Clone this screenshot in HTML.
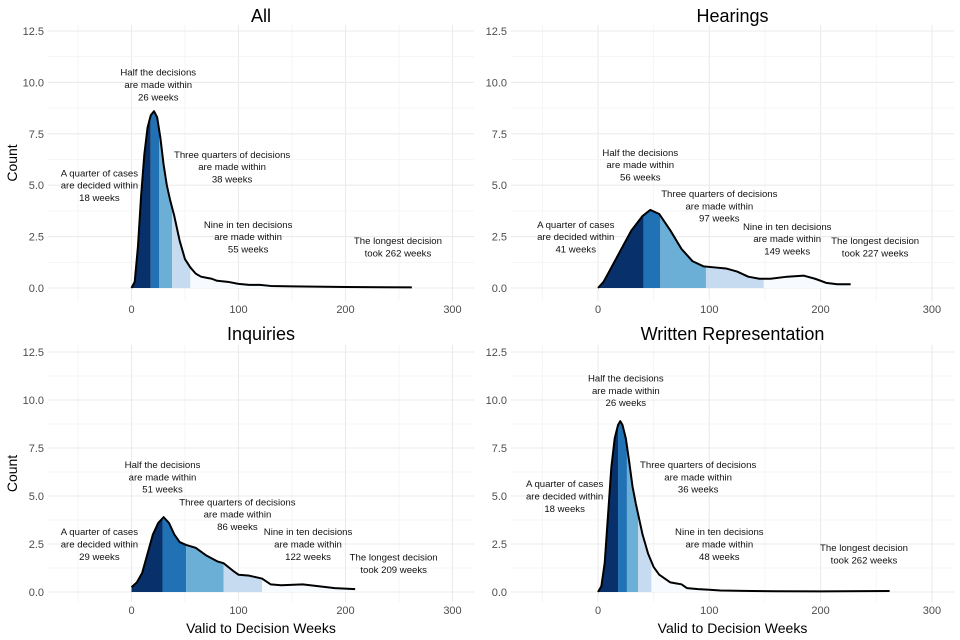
<!DOCTYPE html>
<html><head><meta charset="utf-8">
<style>
html,body{margin:0;padding:0;background:#fff;}
svg{display:block;font-family:"Liberation Sans",Arial,sans-serif;}
</style></head>
<body>
<svg id="chart" width="960" height="640" viewBox="0 0 960 640" xmlns="http://www.w3.org/2000/svg"></svg>
<script>
// ---- data ----
const panelTitles = ["All", "Hearings", "Inquiries", "Written Representation"];
const xTicks = [0, 100, 200, 300];
const yTickLabels = ["0.0", "2.5", "5.0", "7.5", "10.0", "12.5"];
const yTicks = [0, 2.5, 5, 7.5, 10, 12.5];

const allWeeks  = [0,3,6,9,12,15,18,21,24,27,30,33,36,40,45,50,55,60,65,70,75,80,90,100,110,120,130,150,200,262];
const allCounts = [0,0.3,2,4.5,6.5,7.8,8.4,8.6,8.3,7.3,6.0,5.0,4.3,3.5,2.3,1.4,1.0,0.7,0.55,0.5,0.45,0.35,0.3,0.2,0.15,0.15,0.1,0.08,0.05,0.03];
const allQuantiles = [18, 26, 38, 55, 262];

const hearWeeks  = [0,5,10,20,30,40,47,55,65,75,85,95,105,115,125,135,145,155,170,185,195,205,215,227];
const hearCounts = [0,0.3,0.8,1.8,2.8,3.5,3.8,3.6,2.8,1.9,1.3,1.05,1.0,0.95,0.8,0.55,0.45,0.45,0.55,0.6,0.45,0.25,0.18,0.18];
const hearQuantiles = [41, 56, 97, 149, 227];

const inqWeeks  = [0,5,10,15,20,25,30,35,40,45,51,60,70,80,86,95,100,110,122,130,140,160,175,190,209];
const inqCounts = [0.25,0.5,1.0,2.0,3.0,3.6,3.9,3.6,3.0,2.6,2.45,2.3,1.9,1.6,1.5,1.1,0.9,0.85,0.7,0.4,0.35,0.4,0.3,0.2,0.15];
const inqQuantiles = [29, 51, 86, 122, 209];

const wrWeeks  = [0,3,6,9,12,15,18,20,22,25,28,31,34,37,40,45,50,55,60,65,70,75,80,90,100,110,130,160,200,262];
const wrCounts = [0,0.3,1.5,4.0,6.5,8.0,8.7,8.9,8.7,8.0,6.8,5.5,4.6,3.8,3.0,2.0,1.3,0.9,0.7,0.5,0.45,0.4,0.2,0.15,0.12,0.08,0.06,0.04,0.03,0.05];
const wrQuantiles = [18, 26, 36, 48, 262];

const annoAll = [["A quarter of cases","are decided within","18 weeks",-30,5.0],["Half the decisions","are made within","26 weeks",25,9.9],["Three quarters of decisions","are made within","38 weeks",94,5.9],["Nine in ten decisions","are made within","55 weeks",109,2.5],["The longest decision","took 262 weeks",null,249,2.0]];
const annoHear = [["A quarter of cases","are decided within","41 weeks",-20,2.5],["Half the decisions","are made within","56 weeks",38,6.0],["Three quarters of decisions","are made within","97 weeks",109,4.0],["Nine in ten decisions","are made within","149 weeks",170,2.4],["The longest decision","took 227 weeks",null,249,2.0]];
const annoInq = [["A quarter of cases","are decided within","29 weeks",-30,2.5],["Half the decisions","are made within","51 weeks",29,6.0],["Three quarters of decisions","are made within","86 weeks",99,4.05],["Nine in ten decisions","are made within","122 weeks",165,2.5],["The longest decision","took 209 weeks",null,245,1.5]];
const annoWr = [["A quarter of cases","are decided within","18 weeks",-30,5.0],["Half the decisions","are made within","26 weeks",25,10.5],["Three quarters of decisions","are made within","36 weeks",90,6.0],["Nine in ten decisions","are made within","48 weeks",109,2.5],["The longest decision","took 262 weeks",null,239,2.0]];

const bandColors = ["#08306b","#2171b5","#6baed6","#c6dbef","#f7fbff"];

// ---- layout ----
const panels = [
  {title:panelTitles[0], w:allWeeks, c:allCounts, q:allQuantiles, a:annoAll, x0:131.5, xs:1.07, y0:288, ys:20.56, L:48, R:474, T:25, B:301, titleY:22, ylab:true, xlab:false},
  {title:panelTitles[1], w:hearWeeks, c:hearCounts, q:hearQuantiles, a:annoHear, x0:598, xs:1.113, y0:288, ys:20.56, L:511, R:954, T:25, B:301, titleY:22, ylab:false, xlab:false},
  {title:panelTitles[2], w:inqWeeks, c:inqCounts, q:inqQuantiles, a:annoInq, x0:131.5, xs:1.07, y0:592, ys:19.2, L:48, R:474, T:345, B:602, titleY:340, ylab:true, xlab:true},
  {title:panelTitles[3], w:wrWeeks, c:wrCounts, q:wrQuantiles, a:annoWr, x0:598, xs:1.113, y0:592, ys:19.2, L:511, R:954, T:345, B:602, titleY:340, ylab:false, xlab:true}
];

const NS = "http://www.w3.org/2000/svg";
const svg = document.getElementById("chart");
function mk(tag, attrs, parent){ const e=document.createElementNS(NS,tag); for(const k in attrs) e.setAttribute(k,attrs[k]); (parent||svg).appendChild(e); return e; }
function interp(w,c,x){ for(let i=0;i<w.length-1;i++){ if(x>=w[i]&&x<=w[i+1]){ const t=(x-w[i])/(w[i+1]-w[i]); return c[i]+t*(c[i+1]-c[i]); } } return x<w[0]?c[0]:c[c.length-1]; }

panels.forEach((p,pi)=>{
  const X = v => p.x0 + v*p.xs;
  const Y = v => p.y0 - v*p.ys;
  const g = mk("g",{});
  
  
  // grid
  for(let v=-50; v<=300; v+=50){ const major = v%100===0; const ln=mk("line",{x1:X(v),x2:X(v),y1:p.T,y2:p.B,stroke:major?"#ebebeb":"#f3f3f3","stroke-width":major?1.1:0.8},g);
      }
  for(let v=0; v<=12.5; v+=1.25){ const major = Math.abs(v/2.5-Math.round(v/2.5))<1e-6; const ln=mk("line",{x1:p.L,x2:p.R,y1:Y(v),y2:Y(v),stroke:major?"#ebebeb":"#f3f3f3","stroke-width":major?1.1:0.8},g);
      }
  // ticks
  xTicks.forEach(v=>{ const t=mk("text",{x:X(v),y:p.B+12,"text-anchor":"middle","font-size":11,fill:"#4d4d4d"},g); t.textContent=v;
      });
  yTicks.forEach((v,i)=>{ const t=mk("text",{x:p.L-4,y:Y(v)+4,"text-anchor":"end","font-size":11,fill:"#4d4d4d"},g); t.textContent=yTickLabels[i];
      });
  // bands
  let lo = p.w[0];
  p.q.forEach((hi,bi)=>{
    const pts=[[lo,interp(p.w,p.c,lo)]];
    p.w.forEach((wk,i)=>{ if(wk>lo && wk<hi) pts.push([wk,p.c[i]]); });
    pts.push([hi,interp(p.w,p.c,hi)]);
    let d="M"+X(lo)+","+Y(0);
    pts.forEach(pt=>{ d+=" L"+X(pt[0]).toFixed(2)+","+Y(pt[1]).toFixed(2); });
    d+=" L"+X(hi)+","+Y(0)+" Z";
    const band=mk("path",{d:d,fill:bandColors[bi],stroke:"none"},g);
    
    
    lo=hi;
  });
  // curve
  let d="";
  p.w.forEach((wk,i)=>{ d+=(i?" L":"M")+X(wk).toFixed(2)+","+Y(p.c[i]).toFixed(2); });
  const curve=mk("path",{d:d,fill:"none",stroke:"#000","stroke-width":2,"stroke-linejoin":"round"},g);
  
  
  // annotations
  p.a.forEach(an=>{
    const lines=[an[0],an[1]]; if(an[2]) lines.push(an[2]);
    const cy=Y(an[4]); const start=cy-(lines.length-1)*12.3/2;
    const t=mk("text",{"text-anchor":"middle","font-size":9.6,fill:"#111"},g);
    
    
    lines.forEach((s,li)=>{ const ts=mk("tspan",{x:X(an[3]),y:start+li*12.3+3.5},t); ts.textContent=s; });
  });
  // title
  const tt=mk("text",{x:(p.L+p.R)/2,y:p.titleY,"text-anchor":"middle","font-size":18,fill:"#000"},g); tt.textContent=p.title;
   
  if(p.ylab){ const yl=mk("text",{x:0,y:0,"text-anchor":"middle","font-size":14,fill:"#000",transform:"translate(17,"+((p.T+p.B)/2)+") rotate(-90)"},g); yl.textContent="Count";
      }
  if(p.xlab){ const xl=mk("text",{x:(p.L+p.R)/2,y:633,"text-anchor":"middle","font-size":14,fill:"#000"},g); xl.textContent="Valid to Decision Weeks";
      }
});
</script>
</body></html>
